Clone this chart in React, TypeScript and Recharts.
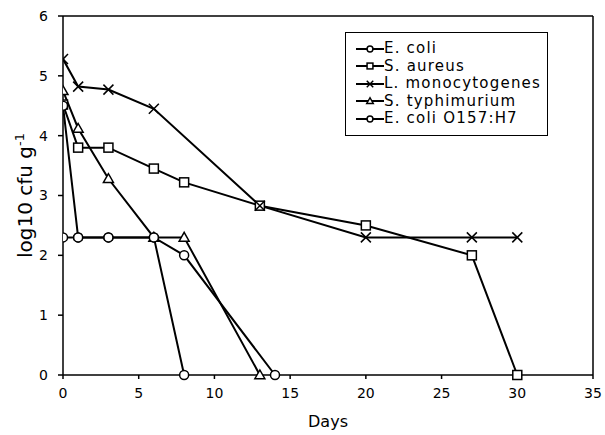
import React from "react";
import {
  LineChart,
  Line,
  XAxis,
  YAxis,
  ReferenceLine,
  Legend,
} from "recharts";

// days sampled and log10 cfu/g per organism
const eColiDays = [0, 1, 3, 6, 8];
const eColiVals = [2.3, 2.3, 2.3, 2.3, 0];

const aureusDays = [0, 1, 3, 6, 8, 13, 20, 27, 30];
const aureusVals = [4.52, 3.8, 3.8, 3.45, 3.22, 2.83, 2.5, 2.0, 0];

const listeriaDays = [0, 1, 3, 6, 13, 20, 27, 30];
const listeriaVals = [5.28, 4.82, 4.77, 4.45, 2.83, 2.3, 2.3, 2.3];

const typhiDays = [0, 1, 3, 6, 8, 13];
const typhiVals = [4.75, 4.12, 3.28, 2.3, 2.3, 0];

const o157Days = [0, 1, 3, 6, 8, 14];
const o157Vals = [4.5, 2.3, 2.3, 2.3, 2.0, 0];

const xTicks = [0, 5, 10, 15, 20, 25, 30, 35];
const yTicks = [0, 1, 2, 3, 4, 5, 6];

const toRows = (days: number[], vals: number[]) =>
  days.map((d, i) => ({ day: d, v: vals[i] }));

type Shape = "circle" | "square" | "cross" | "triangle";

const FONT = "'DejaVu Sans', 'Liberation Sans', Arial, sans-serif";

const Marker = ({ cx, cy, shape, s = 1 }: { cx: number; cy: number; shape: Shape; s?: number }) => {
  const st = { stroke: "#000", strokeWidth: 1.5, fill: "#fff" };
  if (shape === "circle") return <circle cx={cx} cy={cy} r={4.5 * s} {...st} />;
  if (shape === "square")
    return <rect x={cx - 4.5 * s} y={cy - 4.5 * s} width={9 * s} height={9 * s} {...st} />;
  if (shape === "triangle") {
    const h = 5 * s;
    return (
      <polygon
        points={`${cx},${cy - h} ${cx - h},${cy + h * 0.75} ${cx + h},${cy + h * 0.75}`}
        {...st}
      />
    );
  }
  const d = 5 * s;
  return (
    <g stroke="#000" strokeWidth={1.5}>
      <line x1={cx - d} y1={cy - d} x2={cx + d} y2={cy + d} />
      <line x1={cx - d} y1={cy + d} x2={cx + d} y2={cy - d} />
    </g>
  );
};

const series: { name: string; shape: Shape; data: { day: number; v: number }[] }[] = [
  { name: "E. coli", shape: "circle", data: toRows(eColiDays, eColiVals) },
  { name: "S. aureus", shape: "square", data: toRows(aureusDays, aureusVals) },
  { name: "L. monocytogenes", shape: "cross", data: toRows(listeriaDays, listeriaVals) },
  { name: "S. typhimurium", shape: "triangle", data: toRows(typhiDays, typhiVals) },
  { name: "E. coli O157:H7", shape: "circle", data: toRows(o157Days, o157Vals) },
];

const renderLegend = () => (
  <div
    style={{
      border: "1.5px solid #000",
      background: "#fff",
      padding: "7px 6px 7px 10px",
      fontFamily: FONT,
      fontSize: 15,
      letterSpacing: 1.2,
      color: "#000",
    }}
  >
    {series.map((s) => (
      <div
        key={s.name}
        style={{ display: "flex", alignItems: "center", whiteSpace: "nowrap", height: 17.5 }}
      >
        <svg width={28} height={12} style={{ flex: "none" }}>
          <line x1={0} y1={6} x2={28} y2={6} stroke="#000" strokeWidth={2} />
          <Marker cx={14} cy={6} shape={s.shape} s={0.65} />
        </svg>
        <span style={{ lineHeight: "17.5px" }}>{s.name}</span>
      </div>
    ))}
  </div>
);

const YLabel = (props: any) => {
  const vb = props.viewBox || { x: 0, y: 16, width: 63, height: 359 };
  const cy = vb.y + vb.height / 2;
  return (
    <text
      transform={`translate(${vb.x + 32},${cy}) rotate(-90)`}
      textAnchor="middle"
      fontFamily={FONT}
      fontSize={20}
      fill="#000"
    >
      log10 cfu g
      <tspan fontSize={13} dy={-8}>
        -1
      </tspan>
    </text>
  );
};

export default function App() {
  return (
    <div style={{ position: "fixed", left: 0, top: 0, background: "#fff" }}>
      <LineChart width={605} height={435} margin={{ top: 16, right: 12, left: 0, bottom: 0 }}>
        <XAxis
          type="number"
          dataKey="day"
          domain={[0, 35]}
          ticks={xTicks}
          allowDataOverflow
          height={60}
          stroke="#000"
          strokeWidth={1.5}
          tickSize={4}
          tickMargin={9}
          tick={{ fill: "#000", fontSize: 14, fontFamily: FONT }}
          label={{
            value: "Days",
            position: "insideBottom",
            offset: 8,
            fill: "#000",
            fontSize: 16,
            fontFamily: FONT,
          }}
        />
        <YAxis
          type="number"
          domain={[0, 6]}
          ticks={yTicks}
          width={63}
          stroke="#000"
          strokeWidth={1.5}
          tickSize={5}
          tickMargin={10}
          tick={{ fill: "#000", fontSize: 14, fontFamily: FONT }}
          label={<YLabel />}
        />
        <ReferenceLine y={6} stroke="#000" strokeWidth={1.5} ifOverflow="visible" />
        <ReferenceLine x={35} stroke="#000" strokeWidth={1.5} ifOverflow="visible" />
        <Legend
          layout="horizontal"
          verticalAlign="middle"
          align="center"
          content={renderLegend}
          wrapperStyle={{ left: 345, top: 32, width: "auto" }}
        />
        {series.map((s) => (
          <Line
            key={s.name}
            name={s.name}
            data={s.data}
            dataKey="v"
            type="linear"
            stroke="#000"
            strokeWidth={2}
            isAnimationActive={false}
            dot={(p: any) => <Marker key={`${s.name}-${p.index}`} cx={p.cx} cy={p.cy} shape={s.shape} />}
            activeDot={false}
          />
        ))}
      </LineChart>
    </div>
  );
}
